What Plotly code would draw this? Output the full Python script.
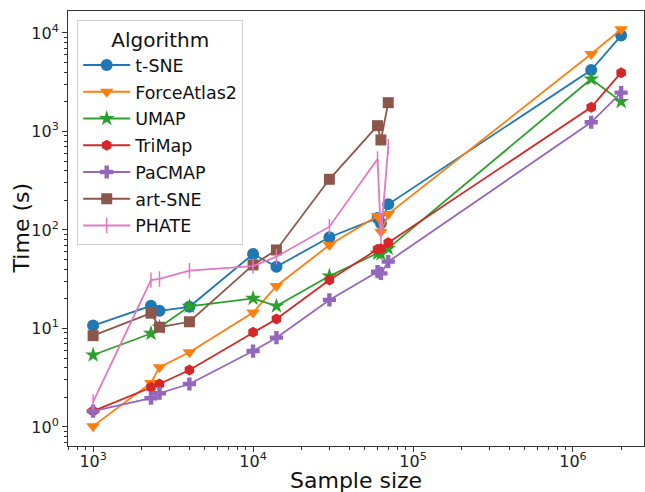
import plotly.graph_objects as go

sample_sizes = [1000, 2300, 2600, 4000, 10000, 14000, 30000, 60000, 63000, 70000, 1300000, 2000000]
tsne =        [10.7, 17.0, 15.1, 16.6, 57.0, 42.4, 84.3, 132, 117, 182, 4210, 9400]
forceatlas2 = [1.02, 2.8, 4.04, 5.73, 14.5, 27.0, 70.4, 139, 96, 145, 6120, 10900]
umap =        [5.38, 8.9, 10.3, 16.8, 20.2, 16.9, 34.1, 58, 57, 65, 3410, 2010]
trimap =      [1.45, 2.53, 2.73, 3.79, 9.15, 12.5, 31.1, 63.7, 64.5, 74.3, 1760, 3950]
pacmap =      [1.45, 1.96, 2.2, 2.73, 5.9, 8.07, 19.5, 37.7, 36.3, 47.7, 1240, 2480]
artsne_x = [1000, 2300, 2600, 4000, 10000, 14000, 30000, 60000, 63000, 70000]
artsne =   [8.45, 14.3, 10.3, 11.7, 44.2, 62.7, 327, 1145, 820, 1960]
phate_x = [1000, 2300, 2600, 4000, 10000, 14000, 30000, 60000, 63000, 70000]
phate =   [1.8, 31, 31.8, 38.6, 43, 53.6, 108, 526, 87, 700]

series = [
    ("t-SNE", sample_sizes, tsne, "#1f77b4", "circle", 12),
    ("ForceAtlas2", sample_sizes, forceatlas2, "#ff7f0e", "triangle-down", 12),
    ("UMAP", sample_sizes, umap, "#2ca02c", "star", 12),
    ("TriMap", sample_sizes, trimap, "#d62728", "hexagon", 11),
    ("PaCMAP", sample_sizes, pacmap, "#9467bd", "cross", 11),
    ("art-SNE", artsne_x, artsne, "#8c564b", "square", 11),
    ("PHATE", phate_x, phate, "#e377c2", "line-ns-open", 11),
]

fig = go.Figure()
for name, xs, ys, color, sym, size in series:
    fig.add_trace(go.Scatter(
        x=xs, y=ys, name=name, legendgroup=name, mode="lines+markers",
        line=dict(color=color, width=1.8),
        marker=dict(symbol=sym, size=size, color=color,
                    line=dict(color=color, width=1.5 if sym.startswith("line") else 0)),
    ))

x_minor = [m * 10 ** e for e in range(2, 7) for m in range(2, 10)]
y_minor = [m * 10 ** e for e in range(-1, 5) for m in range(2, 10)]

axis_common = dict(
    type="log", showgrid=False, zeroline=False, automargin=False,
    showline=True, linecolor="#333", linewidth=1, mirror=True,
    ticks="outside", ticklen=5, tickwidth=1, tickcolor="#333",
    tickfont=dict(family="DejaVu Sans", size=16, color="#222"),
)

fig.update_xaxes(
    **axis_common,
    range=[2.843, 6.444],
    tickvals=[1e3, 1e4, 1e5, 1e6],
    ticktext=["10<sup>3</sup>", "10<sup>4</sup>", "10<sup>5</sup>", "10<sup>6</sup>"],
    minor=dict(tickvals=x_minor, ticks="outside", ticklen=3, tickcolor="#333"),
    ticklabelstandoff=-4,
)
fig.update_yaxes(
    **axis_common,
    range=[-0.193, 4.223],
    tickvals=[1, 10, 100, 1000, 10000],
    ticktext=["10<sup>0</sup>", "10<sup>1</sup>", "10<sup>2</sup>", "10<sup>3</sup>", "10<sup>4</sup>"],
    minor=dict(tickvals=y_minor, ticks="outside", ticklen=3, tickcolor="#333"),
)

fig.update_layout(
    width=645, height=492,
    margin=dict(l=68, r=1, t=11, b=46),
    paper_bgcolor="white", plot_bgcolor="white",
    font=dict(family="DejaVu Sans"),
    legend=dict(
        title=dict(text="Algorithm", side="top center", font=dict(size=20, color="#111")),
        font=dict(size=17.5, color="#111"),
        x=0.016, y=0.979, xanchor="left", yanchor="top",
        bgcolor="rgba(255,255,255,0.85)", bordercolor="#d0d0d0", borderwidth=1,
        itemwidth=47, tracegroupgap=1,
    ),
    annotations=[
        dict(text="Sample size", xref="paper", yref="paper", x=0.5, y=-0.08,
             xanchor="center", yanchor="middle", showarrow=False,
             font=dict(family="DejaVu Sans", size=22, color="#111")),
        dict(text="Time (s)", xref="paper", yref="paper", x=-0.08, y=0.5,
             xanchor="center", yanchor="middle", textangle=-90, showarrow=False,
             font=dict(family="DejaVu Sans", size=22, color="#111")),
    ],
)

fig.write_html("out.html", post_script="document.body.style.margin='0';",
               config={"displayModeBar": False})
